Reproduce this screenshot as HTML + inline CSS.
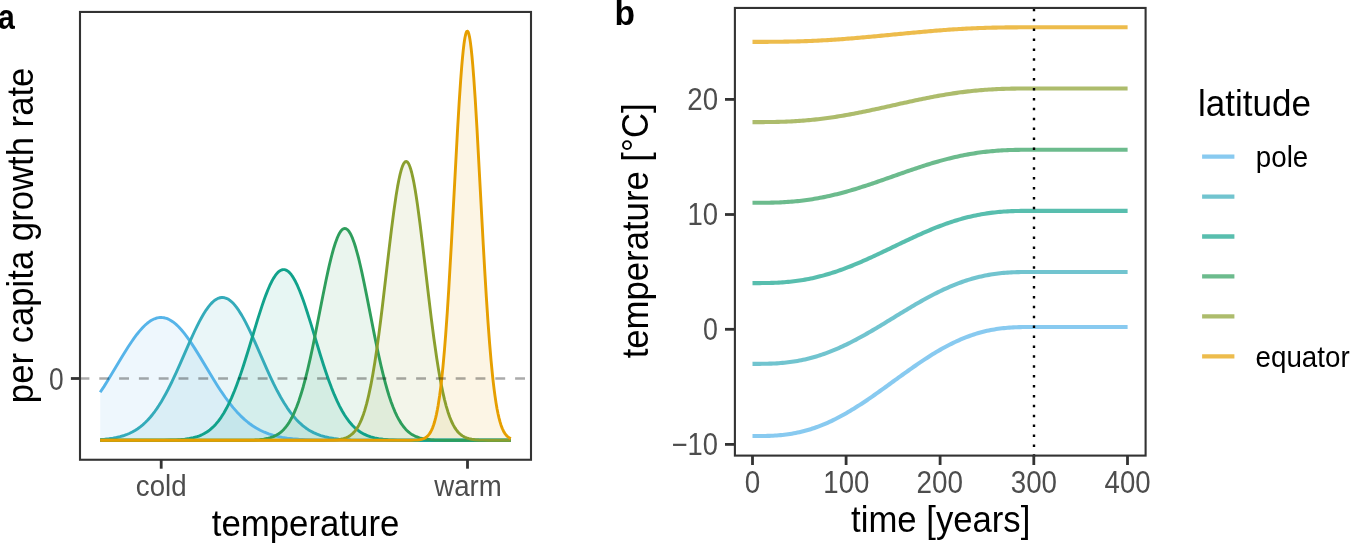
<!DOCTYPE html>
<html><head><meta charset="utf-8"><style>html,body{margin:0;padding:0;background:#fff;overflow:hidden}svg{display:block}text{font-family:"Liberation Sans",sans-serif}svg{will-change:transform}</style></head><body>
<svg width="1350" height="543" viewBox="0 0 1350 543">
<rect width="1350" height="543" fill="#fff"/>
<path d="M100.20,392.32 L103.96,386.61 L108.21,379.83 L122.48,356.09 L128.24,346.82 L131.25,342.25 L134.25,337.93 L137.00,334.22 L139.51,331.11 L142.76,327.46 L144.26,325.94 L145.77,324.54 L147.27,323.25 L148.77,322.08 L150.27,321.04 L151.53,320.27 L153.03,319.47 L154.53,318.80 L156.03,318.27 L157.28,317.93 L158.79,317.65 L160.04,317.53 L161.29,317.50 L162.79,317.60 L164.04,317.79 L165.30,318.07 L166.55,318.46 L167.80,318.93 L169.05,319.51 L170.30,320.17 L171.55,320.93 L173.06,321.96 L175.81,324.16 L178.56,326.76 L181.32,329.74 L184.32,333.36 L186.58,336.31 L189.08,339.81 L191.83,343.87 L194.59,348.12 L199.85,356.63 L213.62,379.55 L217.62,385.95 L221.38,391.69 L225.38,397.49 L229.39,402.91 L233.14,407.60 L236.90,411.91 L240.66,415.83 L244.41,419.36 L248.17,422.51 L250.17,424.03 L252.17,425.46 L256.18,428.03 L260.18,430.23 L264.44,432.21 L268.70,433.86 L272.95,435.23 L277.46,436.39 L282.22,437.37 L287.22,438.16 L292.73,438.81 L298.74,439.31 L305.50,439.69 L313.01,439.96 L326.78,440.19 L347.06,440.28 L510.80,440.30 L510.80,440.3 L100.20,440.3 Z" fill="#56B4E9" fill-opacity="0.1" stroke="none"/>
<path d="M100.20,439.54 L104.71,439.19 L108.96,438.73 L112.97,438.16 L116.47,437.51 L119.98,436.69 L123.23,435.76 L126.24,434.72 L129.24,433.48 L132.25,432.03 L135.00,430.48 L137.75,428.71 L140.26,426.88 L142.76,424.83 L145.27,422.55 L147.77,420.01 L150.27,417.22 L152.53,414.48 L154.78,411.52 L157.03,408.33 L159.04,405.30 L161.29,401.68 L163.54,397.84 L165.80,393.78 L168.05,389.52 L172.06,381.48 L176.31,372.37 L180.32,363.42 L189.83,341.70 L194.59,331.27 L197.09,326.07 L199.34,321.63 L201.60,317.46 L203.60,314.01 L206.10,310.07 L208.61,306.60 L209.86,305.06 L211.11,303.64 L212.36,302.37 L213.37,301.45 L214.62,300.43 L215.62,299.72 L216.87,298.97 L217.87,298.48 L219.12,298.01 L220.13,297.74 L221.38,297.54 L222.38,297.50 L223.38,297.56 L224.63,297.77 L225.63,298.06 L226.89,298.55 L227.89,299.06 L229.14,299.83 L230.39,300.75 L231.64,301.81 L233.90,304.09 L235.15,305.54 L236.40,307.13 L238.90,310.68 L241.66,315.11 L243.66,318.65 L245.91,322.90 L248.17,327.41 L250.67,332.67 L255.18,342.62 L266.94,369.40 L270.45,377.06 L273.70,383.86 L277.21,390.79 L280.71,397.24 L283.97,402.76 L287.22,407.82 L290.23,412.07 L293.48,416.22 L296.49,419.65 L299.74,422.93 L303.00,425.81 L304.75,427.19 L306.50,428.47 L308.25,429.65 L310.01,430.73 L313.51,432.62 L317.02,434.19 L320.77,435.57 L324.78,436.73 L329.03,437.69 L333.79,438.49 L338.80,439.09 L344.31,439.54 L350.82,439.87 L362.33,440.15 L379.36,440.28 L510.80,440.30 L510.80,440.3 L100.20,440.3 Z" fill="#34ABBA" fill-opacity="0.1" stroke="none"/>
<path d="M100.20,440.30 L147.27,440.29 L164.04,440.19 L170.55,440.06 L176.06,439.85 L180.82,439.55 L184.82,439.16 L189.33,438.52 L193.34,437.70 L197.09,436.64 L198.84,436.03 L200.60,435.34 L202.35,434.54 L203.85,433.78 L206.86,432.00 L208.36,430.97 L209.86,429.84 L212.61,427.46 L214.12,425.99 L215.62,424.39 L218.37,421.09 L221.13,417.29 L223.88,412.95 L226.63,408.05 L229.14,403.08 L231.64,397.62 L234.40,391.06 L236.65,385.26 L238.90,379.11 L241.16,372.61 L243.66,365.05 L247.92,351.53 L257.68,319.40 L261.94,306.15 L263.94,300.33 L265.94,294.85 L267.95,289.78 L269.70,285.73 L271.70,281.57 L273.45,278.39 L275.21,275.67 L276.96,273.42 L277.96,272.37 L278.71,271.68 L279.71,270.92 L280.46,270.46 L281.46,270.00 L282.22,269.77 L282.97,269.64 L283.72,269.60 L284.47,269.67 L285.47,269.91 L286.47,270.32 L287.47,270.91 L288.48,271.67 L289.48,272.60 L290.48,273.70 L291.48,274.96 L292.48,276.38 L293.48,277.95 L295.49,281.54 L297.49,285.70 L299.74,290.98 L301.49,295.48 L303.25,300.29 L305.00,305.37 L307.00,311.44 L310.76,323.41 L320.52,355.53 L323.28,364.23 L326.03,372.57 L328.78,380.46 L331.54,387.85 L334.29,394.68 L337.05,400.92 L339.55,406.09 L342.05,410.77 L344.56,414.97 L347.06,418.72 L349.56,422.02 L352.32,425.19 L355.07,427.91 L356.57,429.22 L358.08,430.41 L359.58,431.49 L361.08,432.47 L364.09,434.17 L367.34,435.64 L370.85,436.87 L374.60,437.87 L378.61,438.64 L383.11,439.24 L388.37,439.69 L392.88,439.93 L397.88,440.09 L411.66,440.26 L510.80,440.30 L510.80,440.3 L100.20,440.3 Z" fill="#11A28B" fill-opacity="0.1" stroke="none"/>
<path d="M100.20,440.30 L233.90,440.29 L246.66,440.20 L254.68,439.97 L259.43,439.66 L263.69,439.17 L267.19,438.55 L270.45,437.70 L273.45,436.62 L276.21,435.29 L278.71,433.75 L279.96,432.84 L281.21,431.82 L282.72,430.45 L283.97,429.17 L285.47,427.44 L286.72,425.85 L287.97,424.10 L289.23,422.18 L290.48,420.08 L291.73,417.79 L292.98,415.32 L294.23,412.63 L296.49,407.26 L298.74,401.17 L300.99,394.32 L303.25,386.72 L305.50,378.36 L307.75,369.27 L310.26,358.37 L312.51,347.94 L315.01,335.78 L323.03,295.08 L326.03,280.30 L327.78,272.10 L329.28,265.43 L330.79,259.15 L332.04,254.25 L333.79,247.98 L335.29,243.20 L337.05,238.40 L338.55,234.99 L339.55,233.10 L340.30,231.89 L341.05,230.86 L341.80,230.01 L342.55,229.35 L343.31,228.88 L344.06,228.59 L344.81,228.50 L345.56,228.60 L346.31,228.88 L347.06,229.36 L347.81,230.02 L348.56,230.87 L349.31,231.91 L350.07,233.12 L351.07,235.02 L352.57,238.43 L354.32,243.25 L355.82,248.03 L357.58,254.31 L358.83,259.21 L360.33,265.50 L361.83,272.17 L363.58,280.37 L366.59,295.16 L374.60,335.85 L376.85,346.82 L378.86,356.17 L381.11,366.15 L383.11,374.46 L385.37,383.15 L387.37,390.24 L389.12,395.96 L391.13,401.92 L393.13,407.30 L395.13,412.10 L397.13,416.36 L399.14,420.10 L401.14,423.37 L403.39,426.53 L405.65,429.18 L406.90,430.46 L408.15,431.62 L409.40,432.66 L410.65,433.59 L411.91,434.42 L413.41,435.30 L414.91,436.07 L416.41,436.73 L419.42,437.78 L421.17,438.26 L422.92,438.66 L426.93,439.31 L430.43,439.68 L434.19,439.93 L438.94,440.12 L444.70,440.22 L459.22,440.29 L510.80,440.30 L510.80,440.3 L100.20,440.3 Z" fill="#2E9E5C" fill-opacity="0.1" stroke="none"/>
<path d="M100.20,440.30 L311.26,440.30 L322.78,440.27 L329.28,440.17 L333.79,439.99 L337.55,439.69 L340.80,439.23 L343.56,438.60 L346.06,437.77 L348.31,436.72 L350.32,435.48 L352.32,433.88 L353.82,432.40 L355.07,430.95 L356.32,429.28 L357.58,427.36 L358.83,425.17 L360.08,422.68 L361.33,419.87 L362.33,417.37 L363.58,413.90 L364.59,410.83 L366.59,403.89 L367.84,398.96 L368.84,394.68 L370.85,385.16 L372.85,374.36 L374.85,362.26 L376.85,348.91 L378.86,334.38 L380.61,320.81 L382.61,304.50 L389.12,248.85 L391.38,230.16 L393.88,210.84 L396.13,195.38 L397.63,186.37 L398.89,179.79 L400.14,174.13 L401.39,169.45 L402.14,167.14 L402.64,165.81 L403.39,164.15 L403.89,163.26 L404.64,162.27 L405.15,161.83 L405.65,161.57 L406.15,161.50 L406.65,161.61 L407.15,161.90 L407.65,162.37 L408.40,163.42 L409.40,165.44 L409.90,166.71 L410.65,168.94 L411.66,172.50 L412.91,177.85 L413.91,182.81 L415.16,189.80 L416.16,195.98 L417.41,204.36 L419.92,222.94 L422.42,243.31 L428.43,294.78 L431.18,317.56 L433.94,338.81 L436.69,358.02 L438.44,369.04 L439.95,377.71 L441.45,385.64 L442.95,392.85 L444.45,399.35 L446.21,406.07 L447.96,411.92 L449.71,416.95 L451.46,421.25 L453.22,424.88 L454.97,427.92 L455.97,429.41 L456.97,430.76 L457.97,431.95 L458.97,433.02 L459.98,433.97 L461.23,435.00 L462.48,435.88 L463.73,436.63 L464.98,437.27 L466.49,437.90 L468.99,438.69 L471.74,439.29 L475.00,439.73 L478.75,440.01 L482.76,440.17 L488.27,440.26 L510.80,440.30 L510.80,440.3 L100.20,440.3 Z" fill="#8A9F2E" fill-opacity="0.1" stroke="none"/>
<path d="M100.20,440.30 L397.88,440.30 L411.15,440.26 L414.91,440.16 L417.66,439.97 L419.92,439.69 L421.92,439.25 L423.67,438.65 L425.43,437.75 L426.93,436.66 L428.18,435.44 L429.43,433.88 L430.68,431.88 L431.68,429.92 L432.69,427.58 L433.69,424.79 L434.69,421.51 L435.69,417.66 L436.44,414.36 L437.44,409.37 L438.19,405.13 L439.70,395.29 L440.70,387.63 L441.45,381.26 L442.95,366.85 L444.45,350.10 L445.70,334.33 L447.21,313.25 L448.71,289.96 L451.46,242.45 L457.47,131.04 L459.22,101.61 L460.73,79.32 L461.73,66.38 L462.48,57.83 L463.23,50.36 L463.98,44.04 L464.48,40.50 L464.98,37.51 L465.73,34.10 L466.23,32.54 L466.49,31.99 L466.74,31.58 L466.99,31.32 L467.24,31.20 L467.49,31.24 L467.74,31.43 L467.99,31.76 L468.24,32.24 L468.74,33.64 L469.49,36.84 L469.99,39.69 L470.49,43.09 L471.24,49.21 L471.99,56.49 L472.74,64.86 L473.75,77.59 L475.25,99.61 L477.00,128.80 L483.26,244.68 L484.76,271.16 L486.26,295.95 L488.02,322.28 L489.52,342.39 L491.02,360.13 L492.52,375.51 L493.27,382.34 L494.28,390.59 L495.03,396.17 L496.03,402.84 L497.03,408.68 L498.03,413.77 L499.03,418.16 L500.03,421.94 L501.04,425.16 L502.29,428.50 L503.54,431.18 L504.79,433.32 L506.04,435.01 L506.79,435.84 L507.55,436.55 L509.05,437.67 L510.80,438.60 L510.80,440.3 L100.20,440.3 Z" fill="#E69F00" fill-opacity="0.1" stroke="none"/>
<path d="M100.20,392.32 L103.96,386.61 L108.21,379.83 L122.48,356.09 L128.24,346.82 L131.25,342.25 L134.25,337.93 L137.00,334.22 L139.51,331.11 L142.76,327.46 L144.26,325.94 L145.77,324.54 L147.27,323.25 L148.77,322.08 L150.27,321.04 L151.53,320.27 L153.03,319.47 L154.53,318.80 L156.03,318.27 L157.28,317.93 L158.79,317.65 L160.04,317.53 L161.29,317.50 L162.79,317.60 L164.04,317.79 L165.30,318.07 L166.55,318.46 L167.80,318.93 L169.05,319.51 L170.30,320.17 L171.55,320.93 L173.06,321.96 L175.81,324.16 L178.56,326.76 L181.32,329.74 L184.32,333.36 L186.58,336.31 L189.08,339.81 L191.83,343.87 L194.59,348.12 L199.85,356.63 L213.62,379.55 L217.62,385.95 L221.38,391.69 L225.38,397.49 L229.39,402.91 L233.14,407.60 L236.90,411.91 L240.66,415.83 L244.41,419.36 L248.17,422.51 L250.17,424.03 L252.17,425.46 L256.18,428.03 L260.18,430.23 L264.44,432.21 L268.70,433.86 L272.95,435.23 L277.46,436.39 L282.22,437.37 L287.22,438.16 L292.73,438.81 L298.74,439.31 L305.50,439.69 L313.01,439.96 L326.78,440.19 L347.06,440.28 L510.80,440.30" fill="none" stroke="#56B4E9" stroke-width="2.9" stroke-linejoin="round" stroke-linecap="butt"/>
<path d="M100.20,439.54 L104.71,439.19 L108.96,438.73 L112.97,438.16 L116.47,437.51 L119.98,436.69 L123.23,435.76 L126.24,434.72 L129.24,433.48 L132.25,432.03 L135.00,430.48 L137.75,428.71 L140.26,426.88 L142.76,424.83 L145.27,422.55 L147.77,420.01 L150.27,417.22 L152.53,414.48 L154.78,411.52 L157.03,408.33 L159.04,405.30 L161.29,401.68 L163.54,397.84 L165.80,393.78 L168.05,389.52 L172.06,381.48 L176.31,372.37 L180.32,363.42 L189.83,341.70 L194.59,331.27 L197.09,326.07 L199.34,321.63 L201.60,317.46 L203.60,314.01 L206.10,310.07 L208.61,306.60 L209.86,305.06 L211.11,303.64 L212.36,302.37 L213.37,301.45 L214.62,300.43 L215.62,299.72 L216.87,298.97 L217.87,298.48 L219.12,298.01 L220.13,297.74 L221.38,297.54 L222.38,297.50 L223.38,297.56 L224.63,297.77 L225.63,298.06 L226.89,298.55 L227.89,299.06 L229.14,299.83 L230.39,300.75 L231.64,301.81 L233.90,304.09 L235.15,305.54 L236.40,307.13 L238.90,310.68 L241.66,315.11 L243.66,318.65 L245.91,322.90 L248.17,327.41 L250.67,332.67 L255.18,342.62 L266.94,369.40 L270.45,377.06 L273.70,383.86 L277.21,390.79 L280.71,397.24 L283.97,402.76 L287.22,407.82 L290.23,412.07 L293.48,416.22 L296.49,419.65 L299.74,422.93 L303.00,425.81 L304.75,427.19 L306.50,428.47 L308.25,429.65 L310.01,430.73 L313.51,432.62 L317.02,434.19 L320.77,435.57 L324.78,436.73 L329.03,437.69 L333.79,438.49 L338.80,439.09 L344.31,439.54 L350.82,439.87 L362.33,440.15 L379.36,440.28 L510.80,440.30" fill="none" stroke="#34ABBA" stroke-width="2.9" stroke-linejoin="round" stroke-linecap="butt"/>
<path d="M100.20,440.30 L147.27,440.29 L164.04,440.19 L170.55,440.06 L176.06,439.85 L180.82,439.55 L184.82,439.16 L189.33,438.52 L193.34,437.70 L197.09,436.64 L198.84,436.03 L200.60,435.34 L202.35,434.54 L203.85,433.78 L206.86,432.00 L208.36,430.97 L209.86,429.84 L212.61,427.46 L214.12,425.99 L215.62,424.39 L218.37,421.09 L221.13,417.29 L223.88,412.95 L226.63,408.05 L229.14,403.08 L231.64,397.62 L234.40,391.06 L236.65,385.26 L238.90,379.11 L241.16,372.61 L243.66,365.05 L247.92,351.53 L257.68,319.40 L261.94,306.15 L263.94,300.33 L265.94,294.85 L267.95,289.78 L269.70,285.73 L271.70,281.57 L273.45,278.39 L275.21,275.67 L276.96,273.42 L277.96,272.37 L278.71,271.68 L279.71,270.92 L280.46,270.46 L281.46,270.00 L282.22,269.77 L282.97,269.64 L283.72,269.60 L284.47,269.67 L285.47,269.91 L286.47,270.32 L287.47,270.91 L288.48,271.67 L289.48,272.60 L290.48,273.70 L291.48,274.96 L292.48,276.38 L293.48,277.95 L295.49,281.54 L297.49,285.70 L299.74,290.98 L301.49,295.48 L303.25,300.29 L305.00,305.37 L307.00,311.44 L310.76,323.41 L320.52,355.53 L323.28,364.23 L326.03,372.57 L328.78,380.46 L331.54,387.85 L334.29,394.68 L337.05,400.92 L339.55,406.09 L342.05,410.77 L344.56,414.97 L347.06,418.72 L349.56,422.02 L352.32,425.19 L355.07,427.91 L356.57,429.22 L358.08,430.41 L359.58,431.49 L361.08,432.47 L364.09,434.17 L367.34,435.64 L370.85,436.87 L374.60,437.87 L378.61,438.64 L383.11,439.24 L388.37,439.69 L392.88,439.93 L397.88,440.09 L411.66,440.26 L510.80,440.30" fill="none" stroke="#11A28B" stroke-width="2.9" stroke-linejoin="round" stroke-linecap="butt"/>
<path d="M100.20,440.30 L233.90,440.29 L246.66,440.20 L254.68,439.97 L259.43,439.66 L263.69,439.17 L267.19,438.55 L270.45,437.70 L273.45,436.62 L276.21,435.29 L278.71,433.75 L279.96,432.84 L281.21,431.82 L282.72,430.45 L283.97,429.17 L285.47,427.44 L286.72,425.85 L287.97,424.10 L289.23,422.18 L290.48,420.08 L291.73,417.79 L292.98,415.32 L294.23,412.63 L296.49,407.26 L298.74,401.17 L300.99,394.32 L303.25,386.72 L305.50,378.36 L307.75,369.27 L310.26,358.37 L312.51,347.94 L315.01,335.78 L323.03,295.08 L326.03,280.30 L327.78,272.10 L329.28,265.43 L330.79,259.15 L332.04,254.25 L333.79,247.98 L335.29,243.20 L337.05,238.40 L338.55,234.99 L339.55,233.10 L340.30,231.89 L341.05,230.86 L341.80,230.01 L342.55,229.35 L343.31,228.88 L344.06,228.59 L344.81,228.50 L345.56,228.60 L346.31,228.88 L347.06,229.36 L347.81,230.02 L348.56,230.87 L349.31,231.91 L350.07,233.12 L351.07,235.02 L352.57,238.43 L354.32,243.25 L355.82,248.03 L357.58,254.31 L358.83,259.21 L360.33,265.50 L361.83,272.17 L363.58,280.37 L366.59,295.16 L374.60,335.85 L376.85,346.82 L378.86,356.17 L381.11,366.15 L383.11,374.46 L385.37,383.15 L387.37,390.24 L389.12,395.96 L391.13,401.92 L393.13,407.30 L395.13,412.10 L397.13,416.36 L399.14,420.10 L401.14,423.37 L403.39,426.53 L405.65,429.18 L406.90,430.46 L408.15,431.62 L409.40,432.66 L410.65,433.59 L411.91,434.42 L413.41,435.30 L414.91,436.07 L416.41,436.73 L419.42,437.78 L421.17,438.26 L422.92,438.66 L426.93,439.31 L430.43,439.68 L434.19,439.93 L438.94,440.12 L444.70,440.22 L459.22,440.29 L510.80,440.30" fill="none" stroke="#2E9E5C" stroke-width="2.9" stroke-linejoin="round" stroke-linecap="butt"/>
<path d="M100.20,440.30 L311.26,440.30 L322.78,440.27 L329.28,440.17 L333.79,439.99 L337.55,439.69 L340.80,439.23 L343.56,438.60 L346.06,437.77 L348.31,436.72 L350.32,435.48 L352.32,433.88 L353.82,432.40 L355.07,430.95 L356.32,429.28 L357.58,427.36 L358.83,425.17 L360.08,422.68 L361.33,419.87 L362.33,417.37 L363.58,413.90 L364.59,410.83 L366.59,403.89 L367.84,398.96 L368.84,394.68 L370.85,385.16 L372.85,374.36 L374.85,362.26 L376.85,348.91 L378.86,334.38 L380.61,320.81 L382.61,304.50 L389.12,248.85 L391.38,230.16 L393.88,210.84 L396.13,195.38 L397.63,186.37 L398.89,179.79 L400.14,174.13 L401.39,169.45 L402.14,167.14 L402.64,165.81 L403.39,164.15 L403.89,163.26 L404.64,162.27 L405.15,161.83 L405.65,161.57 L406.15,161.50 L406.65,161.61 L407.15,161.90 L407.65,162.37 L408.40,163.42 L409.40,165.44 L409.90,166.71 L410.65,168.94 L411.66,172.50 L412.91,177.85 L413.91,182.81 L415.16,189.80 L416.16,195.98 L417.41,204.36 L419.92,222.94 L422.42,243.31 L428.43,294.78 L431.18,317.56 L433.94,338.81 L436.69,358.02 L438.44,369.04 L439.95,377.71 L441.45,385.64 L442.95,392.85 L444.45,399.35 L446.21,406.07 L447.96,411.92 L449.71,416.95 L451.46,421.25 L453.22,424.88 L454.97,427.92 L455.97,429.41 L456.97,430.76 L457.97,431.95 L458.97,433.02 L459.98,433.97 L461.23,435.00 L462.48,435.88 L463.73,436.63 L464.98,437.27 L466.49,437.90 L468.99,438.69 L471.74,439.29 L475.00,439.73 L478.75,440.01 L482.76,440.17 L488.27,440.26 L510.80,440.30" fill="none" stroke="#8A9F2E" stroke-width="2.9" stroke-linejoin="round" stroke-linecap="butt"/>
<path d="M100.20,440.30 L397.88,440.30 L411.15,440.26 L414.91,440.16 L417.66,439.97 L419.92,439.69 L421.92,439.25 L423.67,438.65 L425.43,437.75 L426.93,436.66 L428.18,435.44 L429.43,433.88 L430.68,431.88 L431.68,429.92 L432.69,427.58 L433.69,424.79 L434.69,421.51 L435.69,417.66 L436.44,414.36 L437.44,409.37 L438.19,405.13 L439.70,395.29 L440.70,387.63 L441.45,381.26 L442.95,366.85 L444.45,350.10 L445.70,334.33 L447.21,313.25 L448.71,289.96 L451.46,242.45 L457.47,131.04 L459.22,101.61 L460.73,79.32 L461.73,66.38 L462.48,57.83 L463.23,50.36 L463.98,44.04 L464.48,40.50 L464.98,37.51 L465.73,34.10 L466.23,32.54 L466.49,31.99 L466.74,31.58 L466.99,31.32 L467.24,31.20 L467.49,31.24 L467.74,31.43 L467.99,31.76 L468.24,32.24 L468.74,33.64 L469.49,36.84 L469.99,39.69 L470.49,43.09 L471.24,49.21 L471.99,56.49 L472.74,64.86 L473.75,77.59 L475.25,99.61 L477.00,128.80 L483.26,244.68 L484.76,271.16 L486.26,295.95 L488.02,322.28 L489.52,342.39 L491.02,360.13 L492.52,375.51 L493.27,382.34 L494.28,390.59 L495.03,396.17 L496.03,402.84 L497.03,408.68 L498.03,413.77 L499.03,418.16 L500.03,421.94 L501.04,425.16 L502.29,428.50 L503.54,431.18 L504.79,433.32 L506.04,435.01 L506.79,435.84 L507.55,436.55 L509.05,437.67 L510.80,438.60" fill="none" stroke="#E69F00" stroke-width="2.9" stroke-linejoin="round" stroke-linecap="butt"/>
<line x1="79.5" y1="378.5" x2="531" y2="378.5" stroke="#000" stroke-opacity="0.33" stroke-width="2.7" stroke-dasharray="9.9 9.9"/>
<rect x="80" y="11.95" width="451" height="447.8" fill="none" stroke="#333" stroke-width="2.1"/>
<line x1="70.9" y1="378.5" x2="80" y2="378.5" stroke="#333" stroke-width="2.8"/>
<line x1="161.2" y1="459.75" x2="161.2" y2="468.7" stroke="#333" stroke-width="2.8"/>
<line x1="467.5" y1="459.75" x2="467.5" y2="468.7" stroke="#333" stroke-width="2.8"/>
<path d="M752.50,436.06 L754.38,436.06 L756.25,436.06 L758.13,436.05 L760.00,436.04 L761.88,436.02 L763.75,435.99 L765.63,435.96 L767.50,435.91 L769.38,435.85 L771.25,435.77 L773.13,435.68 L775.01,435.57 L776.88,435.44 L778.76,435.29 L780.63,435.13 L782.51,434.94 L784.38,434.73 L786.26,434.50 L788.13,434.24 L790.01,433.96 L791.89,433.66 L793.76,433.33 L795.64,432.98 L797.51,432.60 L799.39,432.19 L801.26,431.75 L803.14,431.29 L805.01,430.80 L806.89,430.29 L808.76,429.74 L810.64,429.17 L812.52,428.57 L814.39,427.94 L816.27,427.29 L818.14,426.60 L820.02,425.89 L821.89,425.15 L823.77,424.38 L825.64,423.59 L827.52,422.77 L829.40,421.92 L831.27,421.05 L833.15,420.15 L835.02,419.22 L836.90,418.27 L838.77,417.30 L840.65,416.30 L842.52,415.28 L844.40,414.24 L846.27,413.17 L848.15,412.08 L850.03,410.97 L851.90,409.85 L853.78,408.70 L855.65,407.53 L857.53,406.34 L859.40,405.14 L861.28,403.92 L863.15,402.69 L865.03,401.44 L866.91,400.18 L868.78,398.90 L870.66,397.61 L872.53,396.31 L874.41,395.00 L876.28,393.68 L878.16,392.35 L880.03,391.02 L881.91,389.67 L883.78,388.33 L885.66,386.97 L887.54,385.62 L889.41,384.26 L891.29,382.89 L893.16,381.53 L895.04,380.17 L896.91,378.80 L898.79,377.44 L900.66,376.09 L902.54,374.73 L904.42,373.39 L906.29,372.04 L908.17,370.71 L910.04,369.38 L911.92,368.06 L913.79,366.75 L915.67,365.45 L917.54,364.16 L919.42,362.88 L921.29,361.62 L923.17,360.37 L925.05,359.14 L926.92,357.92 L928.80,356.72 L930.67,355.53 L932.55,354.36 L934.42,353.21 L936.30,352.09 L938.17,350.98 L940.05,349.89 L941.93,348.82 L943.80,347.78 L945.68,346.76 L947.55,345.76 L949.43,344.79 L951.30,343.84 L953.18,342.91 L955.05,342.01 L956.93,341.14 L958.81,340.29 L960.68,339.47 L962.56,338.68 L964.43,337.91 L966.31,337.17 L968.18,336.46 L970.06,335.77 L971.93,335.12 L973.81,334.49 L975.68,333.89 L977.56,333.32 L979.44,332.77 L981.31,332.26 L983.19,331.77 L985.06,331.31 L986.94,330.87 L988.81,330.46 L990.69,330.08 L992.56,329.73 L994.44,329.40 L996.32,329.10 L998.19,328.82 L1000.07,328.56 L1001.94,328.33 L1003.82,328.12 L1005.69,327.93 L1007.57,327.77 L1009.44,327.62 L1011.32,327.49 L1013.19,327.38 L1015.07,327.29 L1016.95,327.21 L1018.82,327.15 L1020.70,327.10 L1022.57,327.07 L1024.45,327.04 L1026.32,327.02 L1028.20,327.01 L1030.07,327.00 L1031.95,327.00 L1033.83,327.00 L1035.70,327.00 L1037.58,327.00 L1039.45,327.00 L1041.33,327.00 L1043.20,327.00 L1045.08,327.00 L1046.95,327.00 L1048.83,327.00 L1050.70,327.00 L1052.58,327.00 L1054.46,327.00 L1056.33,327.00 L1058.21,327.00 L1060.08,327.00 L1061.96,327.00 L1063.83,327.00 L1065.71,327.00 L1067.58,327.00 L1069.46,327.00 L1071.34,327.00 L1073.21,327.00 L1075.09,327.00 L1076.96,327.00 L1078.84,327.00 L1080.71,327.00 L1082.59,327.00 L1084.46,327.00 L1086.34,327.00 L1088.21,327.00 L1090.09,327.00 L1091.97,327.00 L1093.84,327.00 L1095.72,327.00 L1097.59,327.00 L1099.47,327.00 L1101.34,327.00 L1103.22,327.00 L1105.09,327.00 L1106.97,327.00 L1108.85,327.00 L1110.72,327.00 L1112.60,327.00 L1114.47,327.00 L1116.35,327.00 L1118.22,327.00 L1120.10,327.00 L1121.97,327.00 L1123.85,327.00 L1125.72,327.00 L1127.60,327.00" fill="none" stroke="#56B4E9" stroke-opacity="0.7" stroke-width="4.1" stroke-linejoin="round"/>
<path d="M752.50,363.85 L754.38,363.85 L756.25,363.85 L758.13,363.84 L760.00,363.83 L761.88,363.82 L763.75,363.79 L765.63,363.76 L767.50,363.72 L769.38,363.67 L771.25,363.60 L773.13,363.53 L775.01,363.43 L776.88,363.33 L778.76,363.20 L780.63,363.06 L782.51,362.91 L784.38,362.73 L786.26,362.53 L788.13,362.32 L790.01,362.08 L791.89,361.83 L793.76,361.55 L795.64,361.25 L797.51,360.93 L799.39,360.59 L801.26,360.22 L803.14,359.83 L805.01,359.42 L806.89,358.99 L808.76,358.53 L810.64,358.04 L812.52,357.54 L814.39,357.01 L816.27,356.46 L818.14,355.88 L820.02,355.28 L821.89,354.66 L823.77,354.01 L825.64,353.34 L827.52,352.65 L829.40,351.94 L831.27,351.20 L833.15,350.44 L835.02,349.66 L836.90,348.86 L838.77,348.04 L840.65,347.20 L842.52,346.34 L844.40,345.46 L846.27,344.56 L848.15,343.65 L850.03,342.71 L851.90,341.76 L853.78,340.79 L855.65,339.81 L857.53,338.81 L859.40,337.80 L861.28,336.77 L863.15,335.73 L865.03,334.68 L866.91,333.61 L868.78,332.54 L870.66,331.45 L872.53,330.36 L874.41,329.25 L876.28,328.14 L878.16,327.02 L880.03,325.89 L881.91,324.76 L883.78,323.63 L885.66,322.49 L887.54,321.34 L889.41,320.20 L891.29,319.05 L893.16,317.90 L895.04,316.75 L896.91,315.60 L898.79,314.46 L900.66,313.31 L902.54,312.17 L904.42,311.04 L906.29,309.91 L908.17,308.78 L910.04,307.66 L911.92,306.55 L913.79,305.44 L915.67,304.35 L917.54,303.26 L919.42,302.19 L921.29,301.12 L923.17,300.07 L925.05,299.03 L926.92,298.00 L928.80,296.99 L930.67,295.99 L932.55,295.01 L934.42,294.04 L936.30,293.09 L938.17,292.15 L940.05,291.24 L941.93,290.34 L943.80,289.46 L945.68,288.60 L947.55,287.76 L949.43,286.94 L951.30,286.14 L953.18,285.36 L955.05,284.60 L956.93,283.86 L958.81,283.15 L960.68,282.46 L962.56,281.79 L964.43,281.14 L966.31,280.52 L968.18,279.92 L970.06,279.34 L971.93,278.79 L973.81,278.26 L975.68,277.76 L977.56,277.27 L979.44,276.81 L981.31,276.38 L983.19,275.97 L985.06,275.58 L986.94,275.21 L988.81,274.87 L990.69,274.55 L992.56,274.25 L994.44,273.97 L996.32,273.72 L998.19,273.48 L1000.07,273.27 L1001.94,273.07 L1003.82,272.89 L1005.69,272.74 L1007.57,272.60 L1009.44,272.47 L1011.32,272.37 L1013.19,272.27 L1015.07,272.20 L1016.95,272.13 L1018.82,272.08 L1020.70,272.04 L1022.57,272.01 L1024.45,271.98 L1026.32,271.97 L1028.20,271.96 L1030.07,271.95 L1031.95,271.95 L1033.83,271.95 L1035.70,271.95 L1037.58,271.95 L1039.45,271.95 L1041.33,271.95 L1043.20,271.95 L1045.08,271.95 L1046.95,271.95 L1048.83,271.95 L1050.70,271.95 L1052.58,271.95 L1054.46,271.95 L1056.33,271.95 L1058.21,271.95 L1060.08,271.95 L1061.96,271.95 L1063.83,271.95 L1065.71,271.95 L1067.58,271.95 L1069.46,271.95 L1071.34,271.95 L1073.21,271.95 L1075.09,271.95 L1076.96,271.95 L1078.84,271.95 L1080.71,271.95 L1082.59,271.95 L1084.46,271.95 L1086.34,271.95 L1088.21,271.95 L1090.09,271.95 L1091.97,271.95 L1093.84,271.95 L1095.72,271.95 L1097.59,271.95 L1099.47,271.95 L1101.34,271.95 L1103.22,271.95 L1105.09,271.95 L1106.97,271.95 L1108.85,271.95 L1110.72,271.95 L1112.60,271.95 L1114.47,271.95 L1116.35,271.95 L1118.22,271.95 L1120.10,271.95 L1121.97,271.95 L1123.85,271.95 L1125.72,271.95 L1127.60,271.95" fill="none" stroke="#34ABBA" stroke-opacity="0.7" stroke-width="4.1" stroke-linejoin="round"/>
<path d="M752.50,283.10 L754.38,283.10 L756.25,283.10 L758.13,283.09 L760.00,283.09 L761.88,283.07 L763.75,283.06 L765.63,283.03 L767.50,283.00 L769.38,282.96 L771.25,282.91 L773.13,282.85 L775.01,282.77 L776.88,282.69 L778.76,282.59 L780.63,282.48 L782.51,282.36 L784.38,282.22 L786.26,282.07 L788.13,281.90 L790.01,281.71 L791.89,281.51 L793.76,281.29 L795.64,281.06 L797.51,280.81 L799.39,280.54 L801.26,280.25 L803.14,279.94 L805.01,279.62 L806.89,279.28 L808.76,278.91 L810.64,278.54 L812.52,278.14 L814.39,277.72 L816.27,277.29 L818.14,276.83 L820.02,276.36 L821.89,275.87 L823.77,275.36 L825.64,274.84 L827.52,274.29 L829.40,273.73 L831.27,273.15 L833.15,272.56 L835.02,271.95 L836.90,271.32 L838.77,270.67 L840.65,270.01 L842.52,269.33 L844.40,268.64 L846.27,267.93 L848.15,267.21 L850.03,266.48 L851.90,265.73 L853.78,264.97 L855.65,264.20 L857.53,263.41 L859.40,262.61 L861.28,261.81 L863.15,260.99 L865.03,260.16 L866.91,259.32 L868.78,258.48 L870.66,257.63 L872.53,256.76 L874.41,255.90 L876.28,255.02 L878.16,254.14 L880.03,253.26 L881.91,252.37 L883.78,251.47 L885.66,250.58 L887.54,249.68 L889.41,248.78 L891.29,247.87 L893.16,246.97 L895.04,246.07 L896.91,245.16 L898.79,244.26 L900.66,243.36 L902.54,242.47 L904.42,241.57 L906.29,240.68 L908.17,239.80 L910.04,238.92 L911.92,238.04 L913.79,237.18 L915.67,236.31 L917.54,235.46 L919.42,234.62 L921.29,233.78 L923.17,232.95 L925.05,232.13 L926.92,231.33 L928.80,230.53 L930.67,229.74 L932.55,228.97 L934.42,228.21 L936.30,227.46 L938.17,226.73 L940.05,226.01 L941.93,225.30 L943.80,224.61 L945.68,223.93 L947.55,223.27 L949.43,222.62 L951.30,221.99 L953.18,221.38 L955.05,220.79 L956.93,220.21 L958.81,219.65 L960.68,219.10 L962.56,218.58 L964.43,218.07 L966.31,217.58 L968.18,217.11 L970.06,216.65 L971.93,216.22 L973.81,215.80 L975.68,215.40 L977.56,215.03 L979.44,214.66 L981.31,214.32 L983.19,214.00 L985.06,213.69 L986.94,213.40 L988.81,213.13 L990.69,212.88 L992.56,212.65 L994.44,212.43 L996.32,212.23 L998.19,212.04 L1000.07,211.87 L1001.94,211.72 L1003.82,211.58 L1005.69,211.46 L1007.57,211.35 L1009.44,211.25 L1011.32,211.17 L1013.19,211.09 L1015.07,211.03 L1016.95,210.98 L1018.82,210.94 L1020.70,210.91 L1022.57,210.88 L1024.45,210.87 L1026.32,210.85 L1028.20,210.85 L1030.07,210.84 L1031.95,210.84 L1033.83,210.84 L1035.70,210.84 L1037.58,210.84 L1039.45,210.84 L1041.33,210.84 L1043.20,210.84 L1045.08,210.84 L1046.95,210.84 L1048.83,210.84 L1050.70,210.84 L1052.58,210.84 L1054.46,210.84 L1056.33,210.84 L1058.21,210.84 L1060.08,210.84 L1061.96,210.84 L1063.83,210.84 L1065.71,210.84 L1067.58,210.84 L1069.46,210.84 L1071.34,210.84 L1073.21,210.84 L1075.09,210.84 L1076.96,210.84 L1078.84,210.84 L1080.71,210.84 L1082.59,210.84 L1084.46,210.84 L1086.34,210.84 L1088.21,210.84 L1090.09,210.84 L1091.97,210.84 L1093.84,210.84 L1095.72,210.84 L1097.59,210.84 L1099.47,210.84 L1101.34,210.84 L1103.22,210.84 L1105.09,210.84 L1106.97,210.84 L1108.85,210.84 L1110.72,210.84 L1112.60,210.84 L1114.47,210.84 L1116.35,210.84 L1118.22,210.84 L1120.10,210.84 L1121.97,210.84 L1123.85,210.84 L1125.72,210.84 L1127.60,210.84" fill="none" stroke="#11A28B" stroke-opacity="0.7" stroke-width="4.1" stroke-linejoin="round"/>
<path d="M752.50,202.80 L754.38,202.80 L756.25,202.80 L758.13,202.80 L760.00,202.79 L761.88,202.78 L763.75,202.77 L765.63,202.75 L767.50,202.73 L769.38,202.70 L771.25,202.66 L773.13,202.61 L775.01,202.56 L776.88,202.50 L778.76,202.43 L780.63,202.35 L782.51,202.25 L784.38,202.15 L786.26,202.04 L788.13,201.92 L790.01,201.78 L791.89,201.63 L793.76,201.47 L795.64,201.30 L797.51,201.12 L799.39,200.92 L801.26,200.71 L803.14,200.48 L805.01,200.24 L806.89,199.99 L808.76,199.73 L810.64,199.45 L812.52,199.16 L814.39,198.85 L816.27,198.53 L818.14,198.20 L820.02,197.85 L821.89,197.50 L823.77,197.12 L825.64,196.74 L827.52,196.34 L829.40,195.93 L831.27,195.50 L833.15,195.06 L835.02,194.61 L836.90,194.15 L838.77,193.68 L840.65,193.19 L842.52,192.70 L844.40,192.19 L846.27,191.67 L848.15,191.14 L850.03,190.60 L851.90,190.05 L853.78,189.49 L855.65,188.93 L857.53,188.35 L859.40,187.77 L861.28,187.17 L863.15,186.57 L865.03,185.97 L866.91,185.35 L868.78,184.73 L870.66,184.10 L872.53,183.47 L874.41,182.84 L876.28,182.19 L878.16,181.55 L880.03,180.90 L881.91,180.25 L883.78,179.59 L885.66,178.93 L887.54,178.27 L889.41,177.61 L891.29,176.95 L893.16,176.29 L895.04,175.62 L896.91,174.96 L898.79,174.30 L900.66,173.64 L902.54,172.98 L904.42,172.32 L906.29,171.67 L908.17,171.02 L910.04,170.38 L911.92,169.73 L913.79,169.10 L915.67,168.47 L917.54,167.84 L919.42,167.22 L921.29,166.60 L923.17,166.00 L925.05,165.40 L926.92,164.80 L928.80,164.22 L930.67,163.64 L932.55,163.08 L934.42,162.52 L936.30,161.97 L938.17,161.43 L940.05,160.90 L941.93,160.38 L943.80,159.87 L945.68,159.38 L947.55,158.89 L949.43,158.42 L951.30,157.96 L953.18,157.51 L955.05,157.07 L956.93,156.64 L958.81,156.23 L960.68,155.83 L962.56,155.45 L964.43,155.07 L966.31,154.72 L968.18,154.37 L970.06,154.04 L971.93,153.72 L973.81,153.41 L975.68,153.12 L977.56,152.84 L979.44,152.58 L981.31,152.33 L983.19,152.09 L985.06,151.86 L986.94,151.65 L988.81,151.45 L990.69,151.27 L992.56,151.10 L994.44,150.94 L996.32,150.79 L998.19,150.65 L1000.07,150.53 L1001.94,150.42 L1003.82,150.32 L1005.69,150.22 L1007.57,150.14 L1009.44,150.07 L1011.32,150.01 L1013.19,149.96 L1015.07,149.91 L1016.95,149.87 L1018.82,149.84 L1020.70,149.82 L1022.57,149.80 L1024.45,149.79 L1026.32,149.78 L1028.20,149.77 L1030.07,149.77 L1031.95,149.77 L1033.83,149.77 L1035.70,149.77 L1037.58,149.77 L1039.45,149.77 L1041.33,149.77 L1043.20,149.77 L1045.08,149.77 L1046.95,149.77 L1048.83,149.77 L1050.70,149.77 L1052.58,149.77 L1054.46,149.77 L1056.33,149.77 L1058.21,149.77 L1060.08,149.77 L1061.96,149.77 L1063.83,149.77 L1065.71,149.77 L1067.58,149.77 L1069.46,149.77 L1071.34,149.77 L1073.21,149.77 L1075.09,149.77 L1076.96,149.77 L1078.84,149.77 L1080.71,149.77 L1082.59,149.77 L1084.46,149.77 L1086.34,149.77 L1088.21,149.77 L1090.09,149.77 L1091.97,149.77 L1093.84,149.77 L1095.72,149.77 L1097.59,149.77 L1099.47,149.77 L1101.34,149.77 L1103.22,149.77 L1105.09,149.77 L1106.97,149.77 L1108.85,149.77 L1110.72,149.77 L1112.60,149.77 L1114.47,149.77 L1116.35,149.77 L1118.22,149.77 L1120.10,149.77 L1121.97,149.77 L1123.85,149.77 L1125.72,149.77 L1127.60,149.77" fill="none" stroke="#2E9E5C" stroke-opacity="0.7" stroke-width="4.1" stroke-linejoin="round"/>
<path d="M752.50,122.10 L754.38,122.10 L756.25,122.10 L758.13,122.10 L760.00,122.09 L761.88,122.09 L763.75,122.08 L765.63,122.07 L767.50,122.05 L769.38,122.03 L771.25,122.01 L773.13,121.98 L775.01,121.95 L776.88,121.91 L778.76,121.86 L780.63,121.81 L782.51,121.75 L784.38,121.69 L786.26,121.62 L788.13,121.54 L790.01,121.45 L791.89,121.36 L793.76,121.26 L795.64,121.15 L797.51,121.03 L799.39,120.91 L801.26,120.77 L803.14,120.63 L805.01,120.48 L806.89,120.32 L808.76,120.15 L810.64,119.98 L812.52,119.79 L814.39,119.60 L816.27,119.40 L818.14,119.19 L820.02,118.97 L821.89,118.74 L823.77,118.50 L825.64,118.26 L827.52,118.01 L829.40,117.74 L831.27,117.48 L833.15,117.20 L835.02,116.91 L836.90,116.62 L838.77,116.32 L840.65,116.01 L842.52,115.70 L844.40,115.38 L846.27,115.05 L848.15,114.71 L850.03,114.37 L851.90,114.02 L853.78,113.67 L855.65,113.31 L857.53,112.95 L859.40,112.57 L861.28,112.20 L863.15,111.82 L865.03,111.43 L866.91,111.04 L868.78,110.65 L870.66,110.25 L872.53,109.85 L874.41,109.45 L876.28,109.04 L878.16,108.63 L880.03,108.22 L881.91,107.81 L883.78,107.39 L885.66,106.98 L887.54,106.56 L889.41,106.14 L891.29,105.72 L893.16,105.30 L895.04,104.88 L896.91,104.46 L898.79,104.04 L900.66,103.62 L902.54,103.21 L904.42,102.79 L906.29,102.38 L908.17,101.97 L910.04,101.56 L911.92,101.15 L913.79,100.75 L915.67,100.35 L917.54,99.95 L919.42,99.56 L921.29,99.17 L923.17,98.78 L925.05,98.40 L926.92,98.03 L928.80,97.65 L930.67,97.29 L932.55,96.93 L934.42,96.58 L936.30,96.23 L938.17,95.89 L940.05,95.55 L941.93,95.22 L943.80,94.90 L945.68,94.59 L947.55,94.28 L949.43,93.98 L951.30,93.69 L953.18,93.40 L955.05,93.12 L956.93,92.86 L958.81,92.59 L960.68,92.34 L962.56,92.10 L964.43,91.86 L966.31,91.63 L968.18,91.41 L970.06,91.20 L971.93,91.00 L973.81,90.81 L975.68,90.62 L977.56,90.45 L979.44,90.28 L981.31,90.12 L983.19,89.97 L985.06,89.83 L986.94,89.69 L988.81,89.57 L990.69,89.45 L992.56,89.34 L994.44,89.24 L996.32,89.15 L998.19,89.06 L1000.07,88.98 L1001.94,88.91 L1003.82,88.85 L1005.69,88.79 L1007.57,88.74 L1009.44,88.69 L1011.32,88.65 L1013.19,88.62 L1015.07,88.59 L1016.95,88.57 L1018.82,88.55 L1020.70,88.53 L1022.57,88.52 L1024.45,88.51 L1026.32,88.51 L1028.20,88.50 L1030.07,88.50 L1031.95,88.50 L1033.83,88.50 L1035.70,88.50 L1037.58,88.50 L1039.45,88.50 L1041.33,88.50 L1043.20,88.50 L1045.08,88.50 L1046.95,88.50 L1048.83,88.50 L1050.70,88.50 L1052.58,88.50 L1054.46,88.50 L1056.33,88.50 L1058.21,88.50 L1060.08,88.50 L1061.96,88.50 L1063.83,88.50 L1065.71,88.50 L1067.58,88.50 L1069.46,88.50 L1071.34,88.50 L1073.21,88.50 L1075.09,88.50 L1076.96,88.50 L1078.84,88.50 L1080.71,88.50 L1082.59,88.50 L1084.46,88.50 L1086.34,88.50 L1088.21,88.50 L1090.09,88.50 L1091.97,88.50 L1093.84,88.50 L1095.72,88.50 L1097.59,88.50 L1099.47,88.50 L1101.34,88.50 L1103.22,88.50 L1105.09,88.50 L1106.97,88.50 L1108.85,88.50 L1110.72,88.50 L1112.60,88.50 L1114.47,88.50 L1116.35,88.50 L1118.22,88.50 L1120.10,88.50 L1121.97,88.50 L1123.85,88.50 L1125.72,88.50 L1127.60,88.50" fill="none" stroke="#8A9F2E" stroke-opacity="0.7" stroke-width="4.1" stroke-linejoin="round"/>
<path d="M752.50,41.85 L754.38,41.85 L756.25,41.85 L758.13,41.85 L760.00,41.85 L761.88,41.84 L763.75,41.84 L765.63,41.84 L767.50,41.83 L769.38,41.82 L771.25,41.81 L773.13,41.80 L775.01,41.78 L776.88,41.77 L778.76,41.75 L780.63,41.73 L782.51,41.70 L784.38,41.67 L786.26,41.64 L788.13,41.61 L790.01,41.57 L791.89,41.53 L793.76,41.49 L795.64,41.44 L797.51,41.39 L799.39,41.33 L801.26,41.28 L803.14,41.21 L805.01,41.15 L806.89,41.08 L808.76,41.01 L810.64,40.93 L812.52,40.85 L814.39,40.77 L816.27,40.68 L818.14,40.59 L820.02,40.49 L821.89,40.39 L823.77,40.29 L825.64,40.19 L827.52,40.08 L829.40,39.96 L831.27,39.85 L833.15,39.73 L835.02,39.60 L836.90,39.48 L838.77,39.35 L840.65,39.21 L842.52,39.08 L844.40,38.94 L846.27,38.80 L848.15,38.65 L850.03,38.50 L851.90,38.35 L853.78,38.20 L855.65,38.04 L857.53,37.89 L859.40,37.73 L861.28,37.56 L863.15,37.40 L865.03,37.23 L866.91,37.06 L868.78,36.89 L870.66,36.72 L872.53,36.55 L874.41,36.37 L876.28,36.20 L878.16,36.02 L880.03,35.84 L881.91,35.66 L883.78,35.48 L885.66,35.30 L887.54,35.12 L889.41,34.94 L891.29,34.76 L893.16,34.58 L895.04,34.39 L896.91,34.21 L898.79,34.03 L900.66,33.85 L902.54,33.67 L904.42,33.49 L906.29,33.31 L908.17,33.13 L910.04,32.95 L911.92,32.78 L913.79,32.60 L915.67,32.43 L917.54,32.26 L919.42,32.09 L921.29,31.92 L923.17,31.75 L925.05,31.59 L926.92,31.42 L928.80,31.26 L930.67,31.11 L932.55,30.95 L934.42,30.80 L936.30,30.65 L938.17,30.50 L940.05,30.35 L941.93,30.21 L943.80,30.07 L945.68,29.94 L947.55,29.80 L949.43,29.67 L951.30,29.55 L953.18,29.42 L955.05,29.30 L956.93,29.19 L958.81,29.07 L960.68,28.96 L962.56,28.86 L964.43,28.76 L966.31,28.66 L968.18,28.56 L970.06,28.47 L971.93,28.38 L973.81,28.30 L975.68,28.22 L977.56,28.14 L979.44,28.07 L981.31,28.00 L983.19,27.94 L985.06,27.87 L986.94,27.82 L988.81,27.76 L990.69,27.71 L992.56,27.66 L994.44,27.62 L996.32,27.58 L998.19,27.54 L1000.07,27.51 L1001.94,27.48 L1003.82,27.45 L1005.69,27.42 L1007.57,27.40 L1009.44,27.38 L1011.32,27.37 L1013.19,27.35 L1015.07,27.34 L1016.95,27.33 L1018.82,27.32 L1020.70,27.31 L1022.57,27.31 L1024.45,27.31 L1026.32,27.30 L1028.20,27.30 L1030.07,27.30 L1031.95,27.30 L1033.83,27.30 L1035.70,27.30 L1037.58,27.30 L1039.45,27.30 L1041.33,27.30 L1043.20,27.30 L1045.08,27.30 L1046.95,27.30 L1048.83,27.30 L1050.70,27.30 L1052.58,27.30 L1054.46,27.30 L1056.33,27.30 L1058.21,27.30 L1060.08,27.30 L1061.96,27.30 L1063.83,27.30 L1065.71,27.30 L1067.58,27.30 L1069.46,27.30 L1071.34,27.30 L1073.21,27.30 L1075.09,27.30 L1076.96,27.30 L1078.84,27.30 L1080.71,27.30 L1082.59,27.30 L1084.46,27.30 L1086.34,27.30 L1088.21,27.30 L1090.09,27.30 L1091.97,27.30 L1093.84,27.30 L1095.72,27.30 L1097.59,27.30 L1099.47,27.30 L1101.34,27.30 L1103.22,27.30 L1105.09,27.30 L1106.97,27.30 L1108.85,27.30 L1110.72,27.30 L1112.60,27.30 L1114.47,27.30 L1116.35,27.30 L1118.22,27.30 L1120.10,27.30 L1121.97,27.30 L1123.85,27.30 L1125.72,27.30 L1127.60,27.30" fill="none" stroke="#E69F00" stroke-opacity="0.7" stroke-width="4.1" stroke-linejoin="round"/>
<line x1="1034" y1="456.8" x2="1034" y2="7" stroke="#000" stroke-width="2.4" stroke-dasharray="2.5 7.4"/>
<rect x="734.9" y="7.95" width="410.7" height="447.65" fill="none" stroke="#333" stroke-width="2.1"/>
<line x1="725" y1="99.4" x2="734.9" y2="99.4" stroke="#333" stroke-width="2.8"/>
<line x1="725" y1="214.5" x2="734.9" y2="214.5" stroke="#333" stroke-width="2.8"/>
<line x1="725" y1="329.3" x2="734.9" y2="329.3" stroke="#333" stroke-width="2.8"/>
<line x1="725" y1="444.4" x2="734.9" y2="444.4" stroke="#333" stroke-width="2.8"/>
<line x1="752.5" y1="455.6" x2="752.5" y2="465" stroke="#333" stroke-width="2.8"/>
<line x1="846.1" y1="455.6" x2="846.1" y2="465" stroke="#333" stroke-width="2.8"/>
<line x1="940.1" y1="455.6" x2="940.1" y2="465" stroke="#333" stroke-width="2.8"/>
<line x1="1033.8" y1="455.6" x2="1033.8" y2="465" stroke="#333" stroke-width="2.8"/>
<line x1="1127.5" y1="455.6" x2="1127.5" y2="465" stroke="#333" stroke-width="2.8"/>
<line x1="1202.1" y1="156.60" x2="1234.4" y2="156.60" stroke="#56B4E9" stroke-opacity="0.7" stroke-width="4.3"/>
<line x1="1202.1" y1="196.55" x2="1234.4" y2="196.55" stroke="#34ABBA" stroke-opacity="0.7" stroke-width="4.3"/>
<line x1="1202.1" y1="236.50" x2="1234.4" y2="236.50" stroke="#11A28B" stroke-opacity="0.7" stroke-width="4.3"/>
<line x1="1202.1" y1="276.45" x2="1234.4" y2="276.45" stroke="#2E9E5C" stroke-opacity="0.7" stroke-width="4.3"/>
<line x1="1202.1" y1="316.40" x2="1234.4" y2="316.40" stroke="#8A9F2E" stroke-opacity="0.7" stroke-width="4.3"/>
<line x1="1202.1" y1="356.35" x2="1234.4" y2="356.35" stroke="#E69F00" stroke-opacity="0.7" stroke-width="4.3"/>
<text transform="translate(48.97,390.00) scale(0.8503,1)" font-size="31" font-weight="normal" fill="#4d4d4d">0</text>
<text transform="translate(135.82,496.00) scale(0.9102,1)" font-size="30.4" font-weight="normal" fill="#4d4d4d">cold</text>
<text transform="translate(434.34,496.00) scale(0.9081,1)" font-size="30.4" font-weight="normal" fill="#4d4d4d">warm</text>
<text transform="translate(687.31,110.00) scale(0.8924,1)" font-size="31" font-weight="normal" fill="#4d4d4d">20</text>
<text transform="translate(687.51,225.00) scale(0.8865,1)" font-size="31" font-weight="normal" fill="#4d4d4d">10</text>
<text transform="translate(702.95,340.00) scale(0.8638,1)" font-size="31" font-weight="normal" fill="#4d4d4d">0</text>
<text transform="translate(671.55,455.00) scale(0.8827,1)" font-size="31" font-weight="normal" fill="#4d4d4d">−10</text>
<text transform="translate(744.81,493.00) scale(0.8975,1)" font-size="31" font-weight="normal" fill="#4d4d4d">0</text>
<text transform="translate(823.30,493.00) scale(0.8910,1)" font-size="31" font-weight="normal" fill="#4d4d4d">100</text>
<text transform="translate(916.60,493.00) scale(0.8988,1)" font-size="31" font-weight="normal" fill="#4d4d4d">200</text>
<text transform="translate(1010.74,493.00) scale(0.8940,1)" font-size="31" font-weight="normal" fill="#4d4d4d">300</text>
<text transform="translate(1104.57,493.00) scale(0.8896,1)" font-size="31" font-weight="normal" fill="#4d4d4d">400</text>
<text transform="translate(211.77,536.00) scale(0.9403,1)" font-size="37" font-weight="normal" fill="#000">temperature</text>
<text transform="translate(851.07,532.00) scale(0.9377,1)" font-size="37" font-weight="normal" fill="#000">time [years]</text>
<text transform="translate(33.00,403.14) rotate(-90) scale(0.9377,1)" font-size="37" fill="#000">per capita growth rate</text>
<text transform="translate(648.00,358.33) rotate(-90) scale(0.9380,1)" font-size="37" fill="#000">temperature [°C]</text>
<text transform="translate(1198.04,116.00) scale(0.9455,1)" font-size="37" font-weight="normal" fill="#000">latitude</text>
<text transform="translate(1255.81,167.00) scale(0.9242,1)" font-size="30" font-weight="normal" fill="#000">pole</text>
<text transform="translate(1255.62,367.00) scale(0.9242,1)" font-size="30" font-weight="normal" fill="#000">equator</text>
<text transform="translate(-1.88,29.00) scale(0.8627,1)" font-size="35" font-weight="bold" fill="#000">a</text>
<text transform="translate(614.39,25.00) scale(0.9582,1)" font-size="35" font-weight="bold" fill="#000">b</text>
</svg></body></html>
